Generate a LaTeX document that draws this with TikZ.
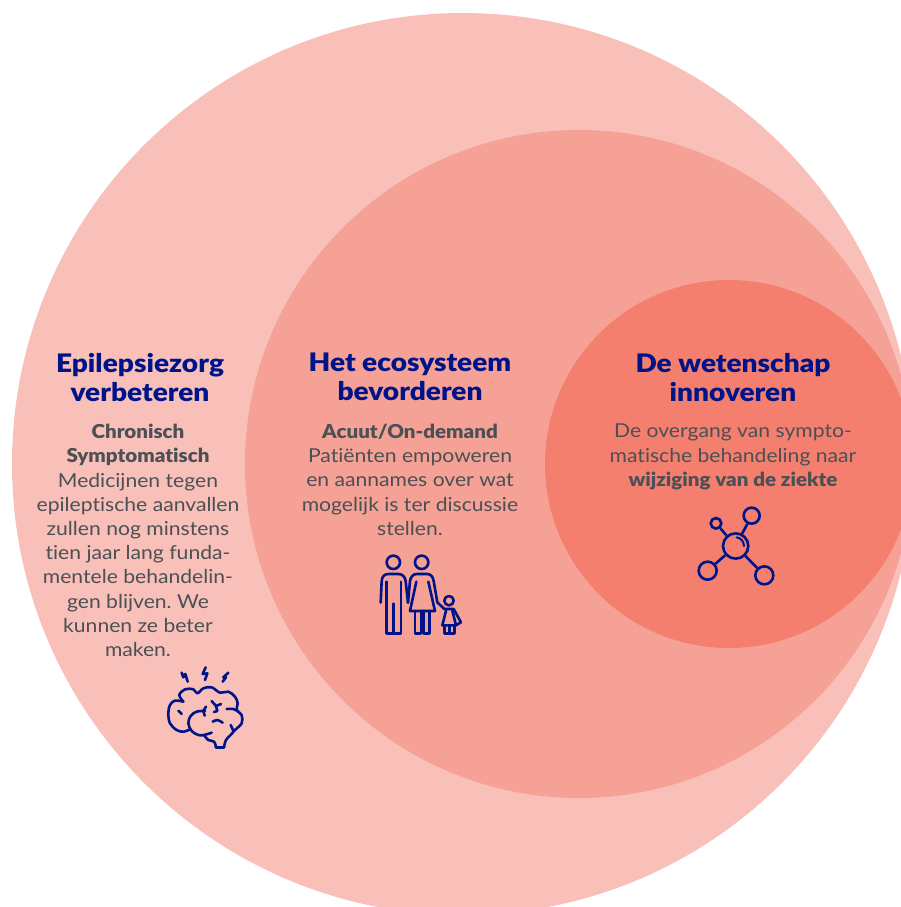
\documentclass[tikz,border=0pt]{standalone}
\usepackage{fontspec}
\setmainfont{Lato}[Ligatures=NoCommon,FakeStretch=1.1,BoldFont={Lato Black},BoldFeatures={FakeStretch=1.07}]
\newfontfamily\headfont{Lato Black}[FakeStretch=1.1]
\definecolor{ringa}{HTML}{F9C0BA}
\definecolor{ringb}{HTML}{F5A195}
\definecolor{ringc}{HTML}{F47F6F}
\definecolor{navy}{HTML}{001489}
\definecolor{slate}{HTML}{4A5054}
\tikzset{
  disc/.style={circle,inner sep=0pt,minimum size=#1},
  head/.style={align=center,text=navy,font=\headfont\fontsize{25.5}{29}\selectfont,inner sep=0pt},
  body/.style={align=center,text=slate,font=\frenchspacing\fontsize{19.2}{24.2}\selectfont,inner sep=0pt},
  icon/.style={draw=navy,line width=2.6pt,line cap=round,line join=round},
  zoomed/.style={x=0.3333pt,y=-0.3333pt},
  atom/.style={circle,draw=navy,line width=2.6pt,inner sep=0pt,minimum size=#1}
}
\begin{document}
\begin{tikzpicture}[x=1pt,y=-1pt]
\useasboundingbox (0,0) rectangle (901,907);
\begin{scope}
\clip (0,0) rectangle (901,907);
\node[disc=902pt,fill=ringa] (outer) at (463,464) {};
\node[disc=668pt,fill=ringb] (middle) at (579,464) {};
\node[disc=368pt,fill=ringc] (inner) at (729,464) {};
\end{scope}
\node[head,anchor=north] (h1) at (140,353) {Epilepsiezorg\\verbeteren};
\node[head,anchor=north] (h2) at (410,353) {Het ecosysteem\\bevorderen};
\node[head,anchor=north] (h3) at (733,353) {De wetenschap\\innoveren};
\node[body,anchor=north] (b1) at (138,424) {\textbf{Chronisch}\\\textbf{Symptomatisch}\\Medicijnen tegen\\epileptische aanvallen\\zullen nog minstens\\tien jaar lang funda-\\mentele behandelin-\\gen blijven. We\\kunnen ze beter\\maken.};
\node[body,anchor=north] (b2) at (410,424) {\textbf{Acuut/On-demand}\\Patiënten empoweren\\en aannames over wat\\mogelijk is ter discussie\\stellen.};
\node[body,anchor=north] (b3) at (733,424) {De overgang van sympto-\\matische behandeling naar\\\textbf{wijziging van de ziekte}};
% brain
\begin{scope}[shift={(140,650)},zoomed]
\draw[icon] plot[smooth,tension=0.6] coordinates {(130,155)(118,135)(135,118)(160,118)(172,130)(190,115)(215,112)(240,128)(265,125)(285,140)(293,160)(290,180)(305,195)(305,220)(285,240)(272,255)(258,270)(252,292)};
\draw[icon] (252,292)--(228,292);
\draw[icon] plot[smooth,tension=0.6] coordinates {(228,292)(222,275)(205,270)(192,255)};
\draw[icon] plot[smooth,tension=0.6] coordinates {(130,155)(105,152)(90,165)(85,190)(90,220)(110,240)(130,245)(150,238)};
\draw[icon] plot[smooth,tension=0.6] coordinates {(215,248)(192,255)(175,255)(155,243)(145,220)(152,198)(170,185)(195,183)};
\draw[icon] (198,170)--(190,183)--(194,197);
\draw[icon] (215,153)--(228,168)--(243,162) (228,168)--(232,183)--(222,186);
\draw[icon] plot[smooth] coordinates {(218,215)(232,210)(248,218)};
\draw[icon] (115,182)--(125,192);
\draw[icon] plot[smooth] coordinates {(260,177)(280,177)(295,185)};
\draw[icon] (272,225)--(280,242);
\draw[icon] (125,68)--(130,82)--(136,72)--(143,95);
\draw[icon] (197,52)--(188,72)--(202,70)--(195,90);
\draw[icon] (265,68)--(250,82)--(258,82)--(248,95);
\end{scope}
% family
\begin{scope}[shift={(365,545)},zoomed]
\draw[icon] (85,52) circle[radius=6.7pt];
\draw[icon] (170,52) circle[radius=6.7pt];
\draw[icon] (252,167) circle[radius=4.7pt];
\draw[icon] (47,173)--(50,108) .. controls (51,95) and (58,87) .. (70,87)--(100,87) .. controls (112,87) and (120,95) .. (122,108)--(129,173);
\draw[icon] (65,110)--(65,266)--(108,266)--(108,110) (86,176)--(86,266);
\draw[icon] (129,173)--(135,108) .. controls (137,95) and (145,87) .. (155,87)--(187,87) .. controls (197,87) and (204,95) .. (206,108)--(217,172)--(238,192);
\draw[icon] (154,110)--(135,198)--(210,198)--(190,110);
\draw[icon] (150,198)--(150,266)--(168,266)--(168,198) (175,198)--(175,266)--(193,266)--(193,198);
\draw[icon] (238,192)--(266,192)--(288,232)--(274,240);
\draw[icon] (243,197)--(232,241)--(273,241)--(262,197);
\draw[icon] (238,241)--(238,266)--(268,266)--(268,241) (253,241)--(253,266);
\end{scope}
% molecule
\begin{scope}[shift={(685,500)},zoomed]
\node[atom=25.3pt] (core) at (152,138) {};
\node[atom=16pt] (a1) at (200,47) {};
\node[atom=10.6pt] (a2) at (93,70) {};
\node[atom=18pt] (a3) at (68,212) {};
\node[atom=18pt] (a4) at (238,226) {};
\draw[icon,line cap=butt] (core)--(a1);
\draw[icon,line cap=butt] (core)--(a2);
\draw[icon,line cap=butt] (core)--(a3);
\draw[icon,line cap=butt] (core)--(a4);
\draw[icon,line width=2pt] (155,112) .. controls (168,114) and (176,124) .. (177,138);
\end{scope}
\end{tikzpicture}
\end{document}
